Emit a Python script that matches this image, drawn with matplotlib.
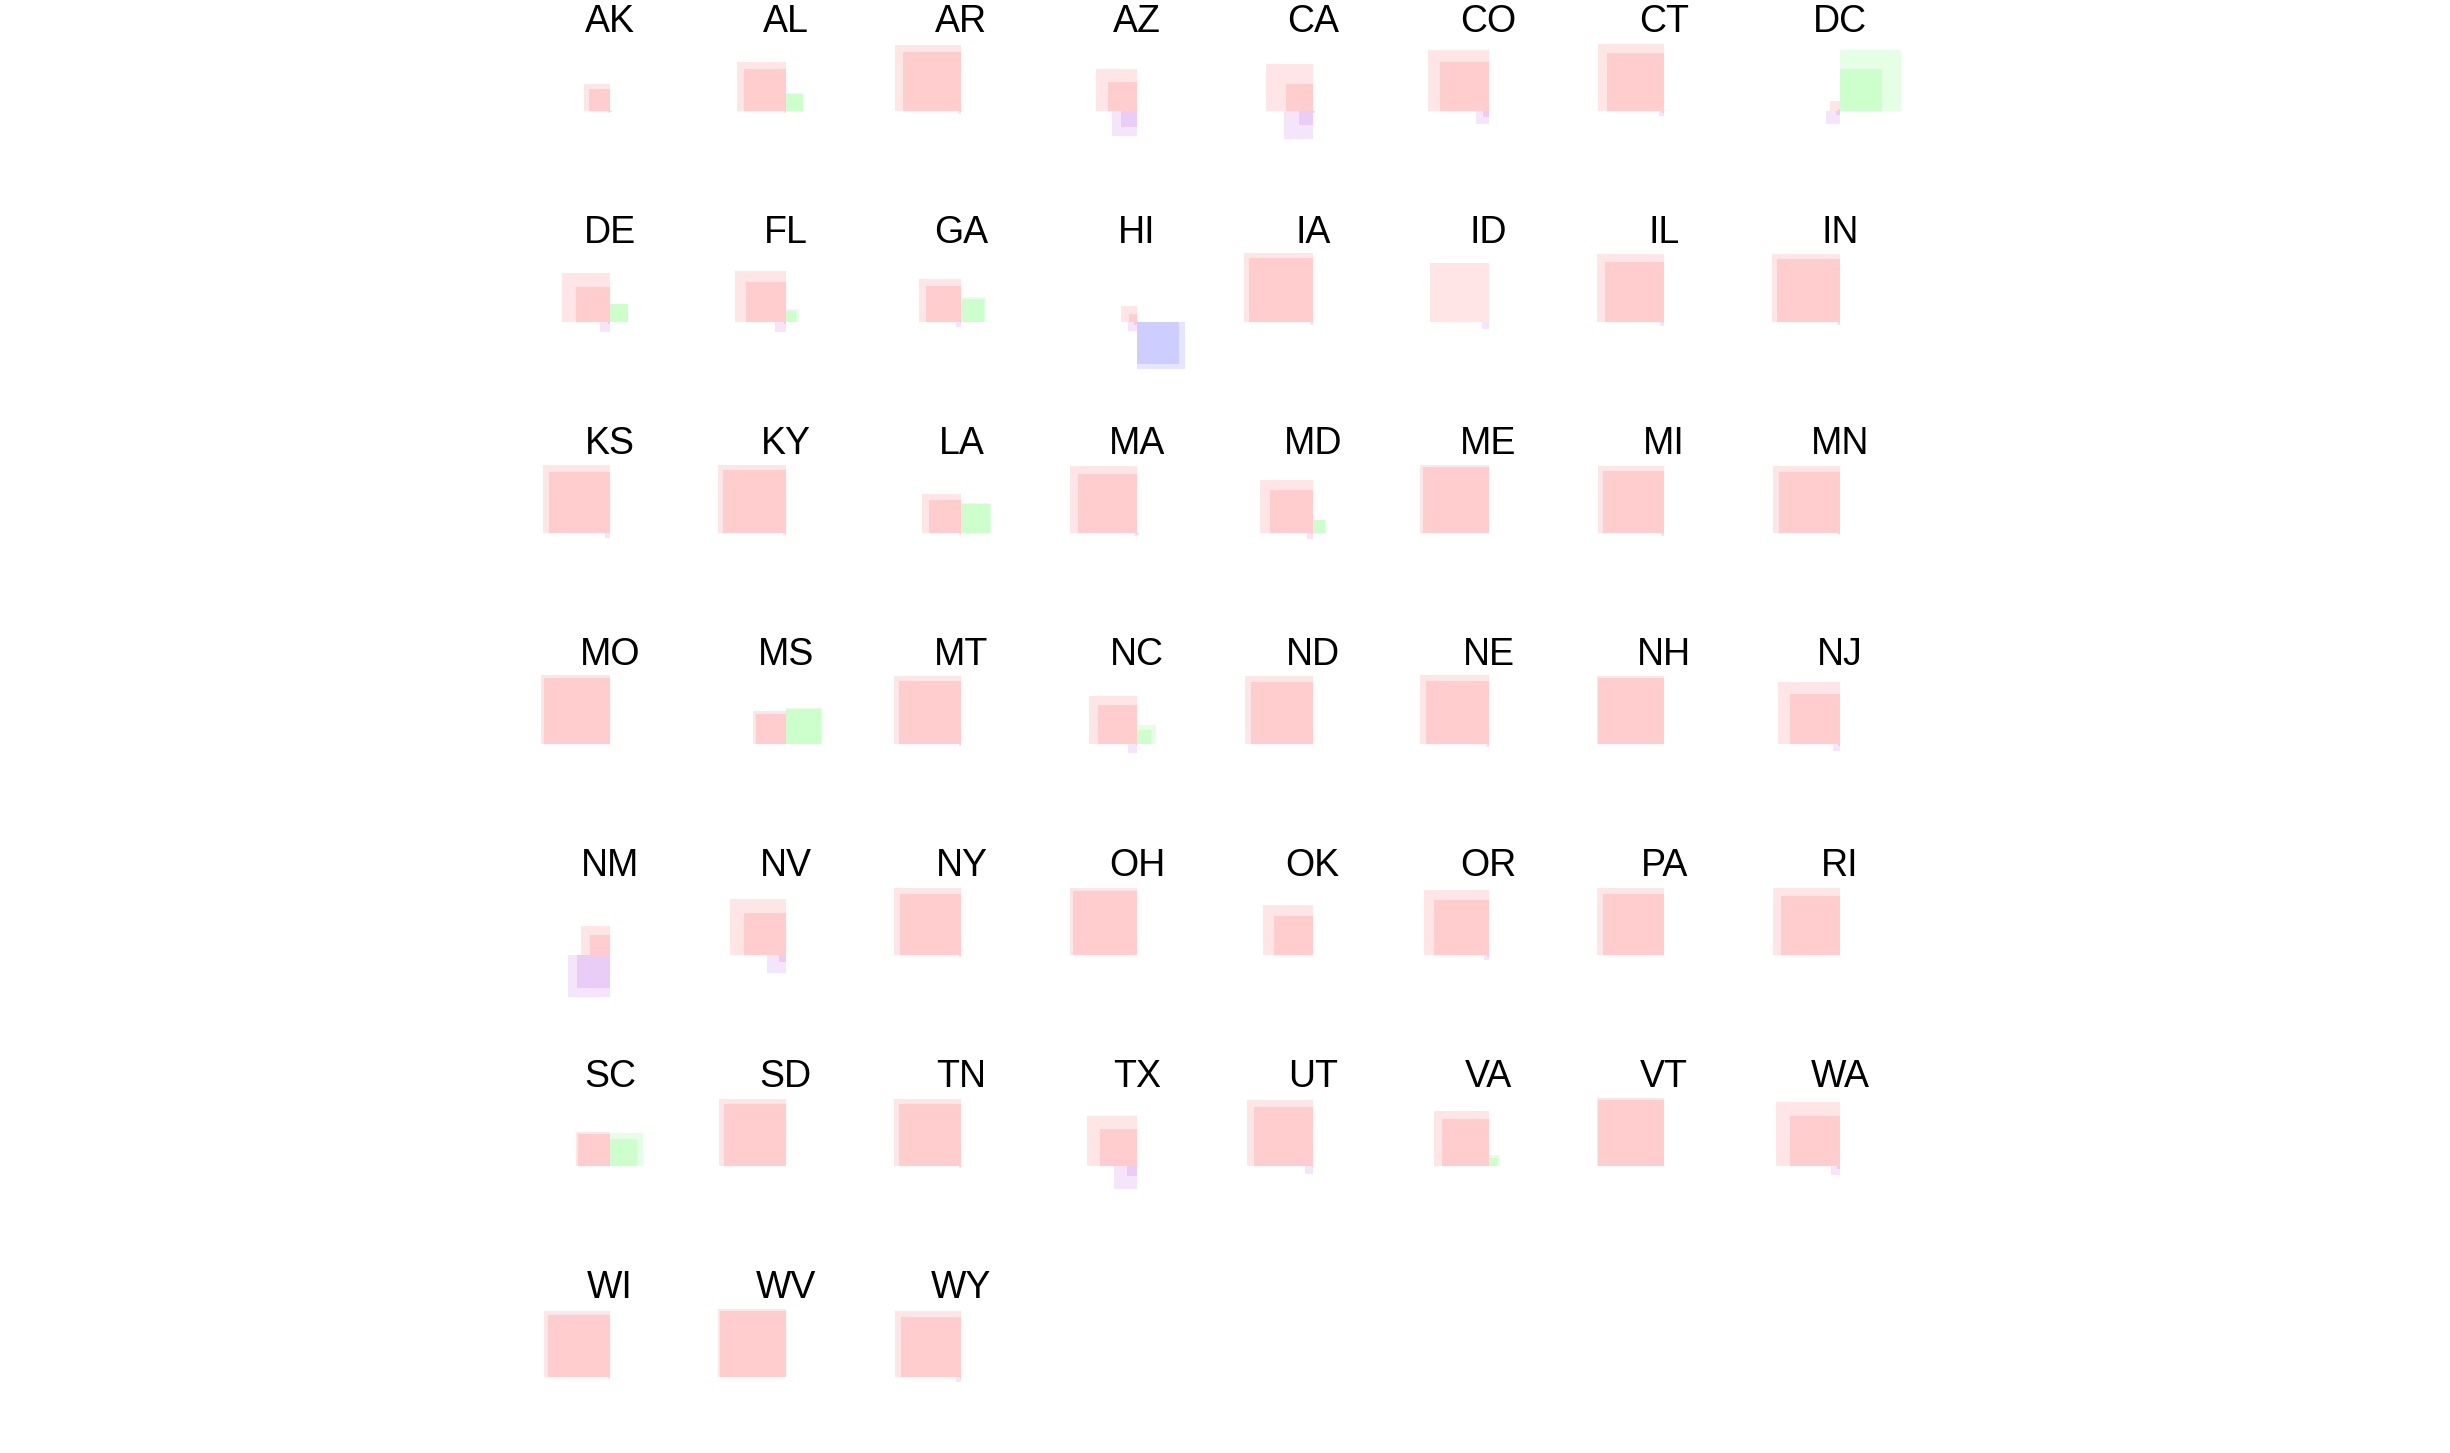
import matplotlib
matplotlib.use("Agg")
import matplotlib.pyplot as plt
from matplotlib.patches import Rectangle

plt.rcParams['font.family'] = ['Liberation Sans', 'DejaVu Sans']

states = ["AK", "AL", "AR", "AZ", "CA", "CO", "CT", "DC",
          "DE", "FL", "GA", "HI", "IA", "ID", "IL", "IN",
          "KS", "KY", "LA", "MA", "MD", "ME", "MI", "MN",
          "MO", "MS", "MT", "NC", "ND", "NE", "NH", "NJ",
          "NM", "NV", "NY", "OH", "OK", "OR", "PA", "RI",
          "SC", "SD", "TN", "TX", "UT", "VA", "VT", "WA",
          "WI", "WV", "WY"]

# square sizes (in % of a unit square), light (a) and dark (b) layers
white_a = [26.5, 48.7, 66.0, 41.5, 46.5, 60.6, 66.3, 10.0,
           48.3, 50.9, 42.5, 16.0, 68.5, 59.0, 67.5, 68.0,
           67.5, 68.0, 39.0, 66.8, 52.8, 68.2, 66.3, 66.8,
           68.9, 32.4, 67.8, 47.7, 67.5, 68.5, 67.5, 62.0,
           29.0, 56.0, 67.0, 67.0, 50.0, 65.0, 67.0, 67.0,
           34.0, 67.0, 67.0, 50.0, 66.0, 55.0, 67.5, 64.0,
           66.0, 67.5, 66.0]
white_b = [21.5, 41.9, 58.8, 29.0, 26.5, 49.0, 57.3, 2.0,
           34.3, 39.8, 35.8, 8.0, 64.0, 0.0, 59.5, 63.0,
           61.0, 63.0, 32.9, 58.8, 42.8, 65.3, 61.3, 60.7,
           65.8, 30.0, 62.3, 38.7, 62.0, 63.0, 66.0, 50.0,
           20.0, 41.5, 61.0, 64.0, 39.0, 55.0, 61.0, 59.0,
           32.0, 62.0, 62.0, 37.0, 58.5, 47.0, 66.0, 50.0,
           62.0, 66.0, 60.0]
black_a = [0.5, 17.3, 0.5, 0.5, 1.0, 0.0, 1.0, 61.2,
           17.8, 12.8, 24.8, 1.0, 0.0, 0.0, 0.5, 0.0,
           0.0, 0.0, 29.5, 0.0, 12.9, 0.0, 0.0, 0.0,
           0.0, 36.0, 0.0, 19.0, 0.0, 0.0, 0.0, 1.0,
           0.0, 1.0, 0.0, 0.0, 0.0, 0.0, 0.0, 0.0,
           33.0, 0.0, 1.0, 1.0, 0.0, 11.0, 0.0, 0.0,
           0.0, 0.0, 0.0]
black_b = [0.5, 17.0, 0.5, 0.0, 0.5, 0.0, 0.5, 42.2,
           17.5, 10.3, 22.3, 0.5, 0.0, 0.0, 0.0, 0.0,
           0.0, 0.0, 28.7, 0.0, 12.5, 0.0, 0.0, 0.0,
           0.0, 35.0, 0.0, 13.5, 0.0, 0.0, 0.0, 0.5,
           0.0, 0.5, 0.0, 0.0, 0.0, 0.0, 0.0, 0.0,
           27.0, 0.0, 0.5, 0.5, 0.0, 8.0, 0.0, 0.0,
           0.0, 0.0, 0.0]
hisp_a = [2.5, 2.0, 3.0, 25.0, 28.5, 13.0, 5.5, 13.5,
          10.0, 10.5, 5.5, 9.3, 3.0, 7.0, 4.0, 3.0,
          5.3, 2.5, 2.0, 3.0, 6.0, 0.0, 3.2, 2.0,
          1.0, 0.0, 2.0, 9.1, 0.0, 3.0, 0.0, 7.0,
          41.8, 18.5, 2.0, 0.0, 0.0, 5.0, 0.0, 0.0,
          0.0, 0.0, 2.0, 23.0, 8.0, 0.0, 0.0, 9.0,
          2.0, 0.0, 5.0]
hisp_b = [1.0, 1.0, 1.0, 16.0, 14.0, 6.0, 2.0, 4.0,
          2.0, 2.0, 1.0, 3.5, 1.0, 0.0, 1.0, 1.0,
          1.0, 1.0, 1.0, 1.0, 1.5, 0.0, 1.0, 1.0,
          0.5, 0.0, 1.0, 1.5, 0.0, 1.0, 0.0, 2.0,
          32.8, 7.0, 1.0, 0.0, 0.0, 2.0, 0.0, 0.0,
          0.0, 0.0, 1.0, 10.5, 1.0, 0.0, 0.0, 3.0,
          1.0, 0.0, 1.0]
asian_a = [1.5, 0.5, 0.5, 0.0, 2.0, 0.0, 0.5, 0.0,
           0.0, 0.0, 0.0, 47.7, 0.0, 0.0, 0.0, 0.0,
           0.0, 0.0, 0.0, 2.0, 0.0, 0.0, 0.0, 0.0,
           0.0, 0.0, 0.0, 0.0, 0.0, 0.0, 0.0, 0.0,
           0.0, 0.0, 0.0, 0.0, 0.0, 0.0, 0.0, 0.0,
           0.0, 0.0, 0.0, 0.0, 0.0, 0.0, 0.0, 0.0,
           0.0, 0.0, 0.0]
asian_b = [0.5, 0.5, 0.0, 0.0, 1.0, 0.0, 0.0, 0.0,
           0.0, 0.0, 0.0, 42.0, 0.0, 0.0, 0.0, 0.0,
           0.0, 0.0, 0.0, 0.5, 0.0, 0.0, 0.0, 0.0,
           0.0, 0.0, 0.0, 0.0, 0.0, 0.0, 0.0, 0.0,
           0.0, 0.0, 0.0, 0.0, 0.0, 0.0, 0.0, 0.0,
           0.0, 0.0, 0.0, 0.0, 0.0, 0.0, 0.0, 0.0,
           0.0, 0.0, 0.0]

group_colors = {"white": "red", "black": "lime", "hisp": "darkviolet", "asian": "blue"}
ALPHA = 0.1

W, H = 2450, 1453
fig = plt.figure(figsize=(W / 100, H / 100), dpi=100)
fig.patch.set_facecolor("white")

NCOL = 8
X0, DX = 610.0, 175.7
Y0, DY = 110.7, 211.0
AW, AH = 170.0, 210.0   # axes box in pixels; 1 data unit = 100 px


def square(ax, quad, val, color):
    s = val / 100.0
    if s <= 0:
        return
    if quad == "ul":
        xy = (-s, 0)
    elif quad == "ur":
        xy = (0, 0)
    elif quad == "ll":
        xy = (-s, -s)
    else:
        xy = (0, -s)
    ax.add_patch(Rectangle(xy, s, s, facecolor=color, edgecolor="none",
                           alpha=ALPHA, linewidth=0, antialiased=False))


for k, st in enumerate(states):
    r, c = divmod(k, NCOL)
    cx = X0 + DX * c
    cy = Y0 + DY * r
    ax = fig.add_axes([(cx - AW / 2) / W, 1 - (cy + AH / 2) / H, AW / W, AH / H])
    ax.set_xlim(-AW / 200, AW / 200)
    ax.set_ylim(-AH / 200, AH / 200)
    ax.axis("off")
    ax.patch.set_alpha(0)
    for quad, grp, la, lb in [("ul", "white", white_a, white_b),
                              ("ur", "black", black_a, black_b),
                              ("ll", "hisp", hisp_a, hisp_b),
                              ("lr", "asian", asian_a, asian_b)]:
        square(ax, quad, la[k], group_colors[grp])
        square(ax, quad, lb[k], group_colors[grp])
    ax.text(0, 0.79, st, ha="center", va="baseline", fontsize=27, color="black")

fig.savefig("out.png", dpi=100)
